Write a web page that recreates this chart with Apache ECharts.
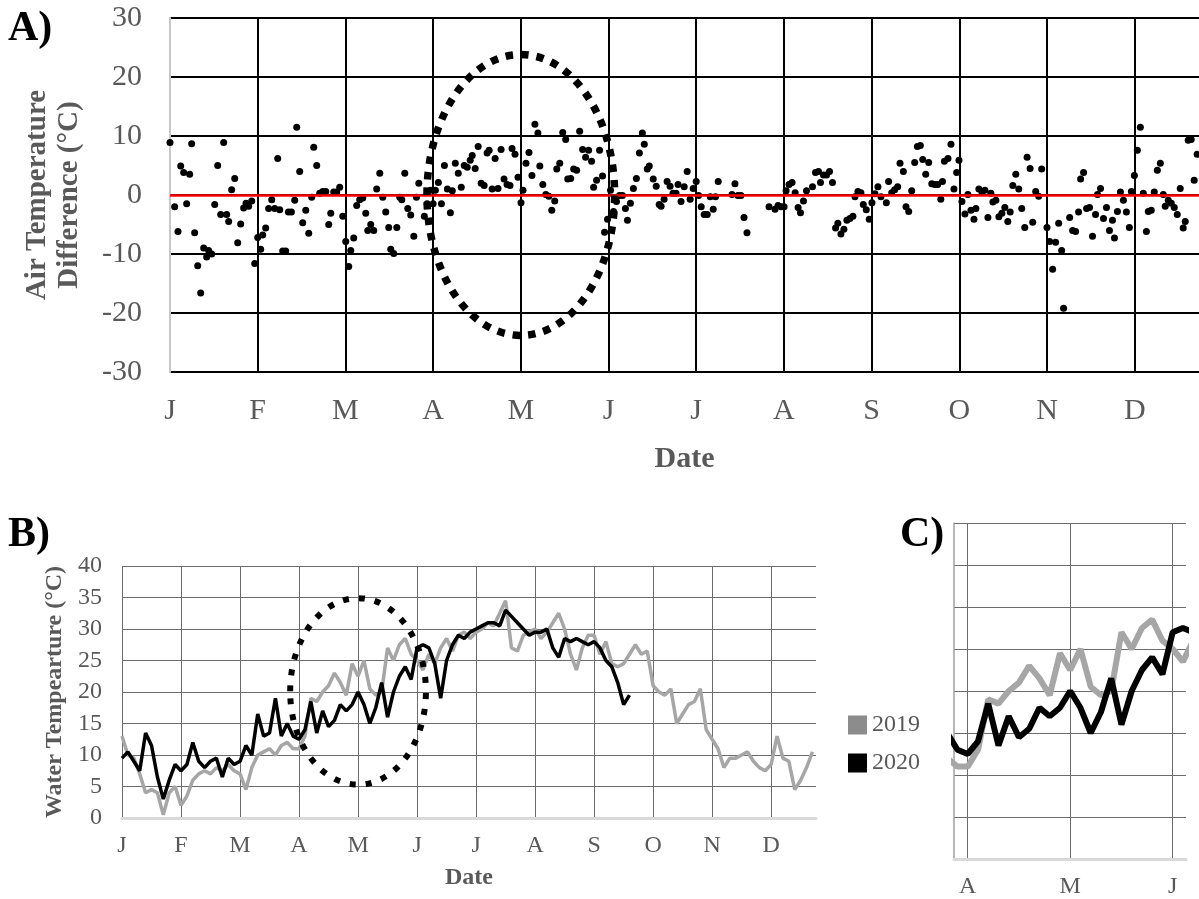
<!DOCTYPE html>
<html><head><meta charset="utf-8">
<script src="https://cdn.jsdelivr.net/npm/echarts@6/dist/echarts.min.js"></script>
<style>html,body{margin:0;padding:0;background:#fff}#c{width:1199px;height:899px}</style>
</head><body><div id="c"></div>
<script>
// ---------- data ----------
const monthLabels = ['J','F','M','A','M','J','J','A','S','O','N','D'];
const monthTicks = [0,1,2,3,4,5,6,7,8,9,10,11];
const zoomTicks = [3,4,5];

// Panel A: daily air temperature difference, x in months since Jan 1
const airMonth = [
0,0.053,0.091,0.122,0.156,0.19,0.224,0.247,0.281,0.316,0.35,0.384,0.418,0.44,0.475,0.51,0.544,0.578,0.612,0.646,0.669,0.703,0.738,0.772,0.806,0.84,0.867,0.897,0.932,0.966,
1.0,1.034,1.057,1.091,1.125,1.16,1.194,1.228,1.251,1.285,1.319,1.35,1.384,1.422,1.445,1.479,1.513,1.548,1.582,1.616,1.639,1.673,1.707,1.741,1.776,1.81,1.833,1.867,1.901,1.935,1.97,
2.004,2.038,2.061,2.095,2.129,2.163,2.198,2.232,2.255,2.289,2.323,2.357,2.392,2.426,2.46,2.494,2.517,2.551,2.586,2.62,2.643,2.677,2.711,2.745,2.78,2.81,2.837,2.9,
2.932,2.97,3.0,3.026,3.06,3.095,3.129,3.163,3.197,3.219,3.253,3.287,3.321,3.355,3.389,3.423,3.446,3.48,3.514,3.548,3.582,3.616,3.639,3.673,3.707,3.74,3.775,3.809,3.843,3.877,3.9,3.934,3.968,
4.002,4.025,4.059,4.093,4.127,4.161,4.195,4.217,4.251,4.285,4.32,4.353,4.387,4.41,4.444,4.478,4.512,4.535,4.569,4.603,4.637,4.671,4.705,4.739,4.773,4.807,4.83,4.864,4.898,4.932,4.955,4.989,
5.023,5.057,5.091,5.125,5.159,5.193,5.216,5.25,5.284,5.318,5.352,5.386,5.408,5.442,5.465,5.51,5.544,5.578,5.6,5.634,5.668,5.702,5.736,5.77,5.793,5.827,5.863,5.897,5.931,5.966,
6.0,6.027,6.057,6.091,6.126,6.16,6.194,6.22,6.251,6.408,6.442,6.476,6.51,6.545,6.579,6.83,6.899,6.933,6.968,
7.002,7.025,7.059,7.093,7.128,7.162,7.189,7.223,7.257,7.326,7.36,7.394,7.417,7.451,7.486,7.52,7.554,7.589,7.615,7.65,7.684,7.718,7.752,7.787,7.81,7.844,7.878,7.905,7.939,7.973,
8.004,8.038,8.072,8.107,8.168,8.194,8.229,8.263,8.297,8.324,8.362,8.392,8.423,8.457,8.491,8.522,8.556,8.583,8.617,8.651,8.686,8.72,8.754,8.789,8.808,8.83,8.871,8.905,8.939,8.97,8.996,
9.03,9.064,9.098,9.133,9.167,9.189,9.223,9.258,9.292,9.326,9.36,9.383,9.417,9.451,9.485,9.519,9.553,9.58,9.61,9.644,9.678,9.712,9.746,9.773,9.807,9.837,9.871,9.905,9.939,
10.0,10.03,10.064,10.098,10.133,10.167,10.189,10.258,10.292,10.326,10.36,10.383,10.417,10.451,10.485,10.519,10.553,10.576,10.61,10.644,10.678,10.712,10.746,10.769,10.803,10.837,10.871,10.905,10.939,10.962,10.996,
11.03,11.064,11.098,11.133,11.155,11.189,11.223,11.258,11.292,11.326,11.348,11.383,11.417,11.451,11.485,11.519,11.553,11.576,11.61,11.644,11.678,11.712
];
const airDiff = [
8.9,-2.0,-6.2,4.9,3.8,-1.5,3.5,8.7,-6.4,-12.0,-16.6,-9.0,-10.5,-9.4,-10.0,-1.6,5.0,-3.3,8.9,-3.3,-4.5,0.9,2.8,-8.1,-4.9,-2.2,-1.4,-1.9,-1.0,-11.6,
-7.2,-9.2,-6.8,-5.6,-2.3,-0.8,-2.3,6.2,-2.5,-9.5,-9.5,-2.9,-2.9,-0.9,11.5,4.0,-4.7,-2.6,-6.5,-0.4,8.1,5.0,0.3,0.6,0.6,-5.0,-3.1,0.5,0.5,1.3,-3.6,
-7.9,-12.1,-9.4,-7.3,-1.8,-0.8,-0.5,-3.1,-6.0,-5.0,-6.0,1.0,3.7,-0.4,-2.9,-5.5,-9.2,-9.9,-5.5,-0.4,-0.8,3.7,-2.3,-3.4,-7.0,-0.4,2.0,-3.6,
-1.5,0.8,-1.5,0.8,2.1,-1.5,5.0,1.0,-3.0,0.7,5.4,3.7,1.3,5.0,4.7,5.9,6.7,4.5,8.2,2.0,1.6,7.1,7.6,1.0,6.2,1.1,7.7,2.7,1.8,1.6,7.9,6.9,3.0,
-1.3,0.8,5.4,7.2,3.3,12.0,10.5,4.9,1.8,0.1,-0.2,-2.6,-1.0,4.4,5.4,10.6,9.4,2.7,2.8,4.4,4.2,10.8,7.7,6.4,7.6,5.7,1.3,2.5,7.6,3.2,-6.3,-4.1,
0.8,-2.8,-1.1,-0.1,-0.1,-2.3,-4.3,-1.4,1.1,2.8,7.1,10.5,8.6,4.4,4.9,2.7,1.5,-1.6,-1.9,-0.7,2.3,1.5,0.3,0.3,1.8,-1.1,1.4,4.0,-0.7,1.1,
2.3,-0.1,-2.0,-3.3,-3.3,-0.3,-2.4,-0.3,2.3,0.1,1.9,-0.1,-0.1,-3.8,-6.4,-2.0,-2.4,-1.8,-2.0,
-2.0,0.7,1.8,2.1,0.4,-2.1,-3.0,-1.0,0.7,1.4,3.8,4.0,2.1,3.4,3.4,4.0,2.1,-5.6,-4.8,-6.6,-5.8,-4.3,-4.0,-3.6,-0.3,0.6,0.4,-1.6,-2.5,-4.1,
-1.3,0.2,1.4,-0.3,-1.3,2.3,0.4,0.9,1.4,5.4,4.0,-2.0,-2.8,0.7,5.5,8.2,8.4,6.0,3.5,5.5,1.9,1.8,1.8,-0.7,2.3,5.7,6.2,8.6,1.0,3.8,5.9,
-1.1,-3.2,0.1,-2.6,-4.1,-2.3,1.0,0.5,0.8,-3.8,0.3,-1.2,-0.9,-3.7,-3.1,-2.1,-4.5,-2.9,1.6,3.5,1.0,-2.3,-5.5,6.4,4.5,-4.6,0.6,-0.2,4.4,
-5.5,-7.9,-12.6,-8.0,-4.8,-9.4,-19.2,-3.8,-6.0,-6.2,-2.9,2.7,3.8,-2.3,-2.1,-7.0,-3.3,0.1,1.1,-4.0,-2.1,-6.0,-4.3,-7.3,-2.8,0.5,-0.9,-2.9,-5.5,0.6,3.3,
7.6,11.5,0.3,-6.2,-2.8,-2.6,0.5,4.2,5.4,0.1,-1.9,-0.9,-1.4,-2.1,-3.3,1.1,-5.6,-4.5,9.3,9.4,2.5,6.9
];

// Panels B and C: water temperature, one value every 0.1 month from Jan 1
const waterStep = 0.1;
const water2019 = [
13,10,9.5,7,4,4.5,4,0.5,4,5,
2,3.5,6,7,7.5,7,8,7.5,8.5,7.5,
7,4.5,8,10,10.5,11,10,11.5,12,11,
11,13,19,18.5,20,21,23,21.5,19.5,24.5,
22.5,25,20.5,19.5,20,27,25,27.5,28.5,26,
25,23.5,26,24.5,27,28.5,26.5,29,29.5,28.5,
29.5,30,31,30.5,32.5,34.5,27,26.5,29,29.5,
30,28.5,29.5,31,32.5,30,26,23.5,27,29,
29,26,28,24.5,24,24.5,26,27.5,26,26.5,
21,20,19.5,20.5,15,16.5,18,18.5,20.5,14,
12.5,11,8,9.5,9.5,10,10.5,9,8,7.5,
8.5,13,9.5,9,4.5,6,8,10.5
];
const water2020 = [
9.5,10.5,9,7.5,13.5,11.5,6.5,3,6,8.5,
7.5,8.5,12,9,8,9,9.5,6.5,9.5,8.5,
9,11.5,10,16.5,13,13.5,19,13,15,13,
12.5,14,18.5,13.5,17,14.5,15.5,18,17,18,
20,18,15,17.5,21.5,16,20,22.5,24,22,
27,27.5,27,24.5,19,25,27.5,29,28.5,29.5,
30,30.5,31,31,30.5,33,32,31,30,29,
29.5,29.5,30,27,25.5,28.5,28,28.5,28,27.5,
28,27,25,24,21.5,18,19.5
];

// ---------- build ----------
const serif = 'Liberation Serif';
const grey = '#595959';
const toPairs = arr => arr.map((v, i) => [+(i * waterStep).toFixed(2), v]);
const airData = airMonth.map((m, i) => [m, airDiff[i]]);
const monthFmt = v => monthLabels[Math.round(v)] || '';

const chart = echarts.init(document.getElementById('c'), null, {renderer: 'canvas'});
const option = {
  animation: false,
  backgroundColor: '#fff',
  grid: [
    {left: 170, top: 18, width: 1029, height: 354},
    {left: 122, top: 566, width: 694, height: 252},
    {left: 954, top: 523, width: 232, height: 336}
  ],
  xAxis: [
    {gridIndex: 0, type: 'value', min: 0, max: 11.733, interval: 1,
     axisLine: {show: false, onZero: false},
     axisTick: {show: false, customValues: monthTicks},
     axisLabel: {customValues: monthTicks, formatter: monthFmt, fontFamily: serif, fontSize: 30, color: grey, margin: 24},
     splitLine: {show: true, lineStyle: {color: '#000', width: 2}},
     name: 'Date', nameLocation: 'middle', nameGap: 72,
     nameTextStyle: {fontFamily: serif, fontWeight: 'bold', fontSize: 30, color: grey}},
    {gridIndex: 1, type: 'value', min: 0, max: 11.76, interval: 1,
     axisLine: {show: true, onZero: false, lineStyle: {color: '#d9d9d9', width: 3}},
     axisTick: {show: false, customValues: monthTicks},
     axisLabel: {customValues: monthTicks, formatter: monthFmt, fontFamily: serif, fontSize: 24, color: grey, margin: 16},
     splitLine: {show: true, lineStyle: {color: '#6b6b6b', width: 1}},
     name: 'Date', nameLocation: 'middle', nameGap: 48,
     nameTextStyle: {fontFamily: serif, fontWeight: 'bold', fontSize: 24, color: grey}},
    {gridIndex: 2, type: 'value', min: 2.866, max: 5.13,
     axisLine: {show: true, onZero: false, lineStyle: {color: '#d9d9d9', width: 3}},
     axisTick: {show: false, customValues: zoomTicks},
     axisLabel: {customValues: zoomTicks, formatter: monthFmt, fontFamily: serif, fontSize: 24, color: grey, margin: 16},
     splitLine: {show: true, lineStyle: {color: '#6b6b6b', width: 1}}}
  ],
  yAxis: [
    {gridIndex: 0, type: 'value', min: -30, max: 30, interval: 10,
     axisLine: {show: true, lineStyle: {color: '#c8c8c8', width: 2}},
     axisTick: {show: false},
     axisLabel: {fontFamily: serif, fontSize: 30, color: grey, margin: 28},
     splitLine: {show: true, lineStyle: {color: '#000', width: 2}},
     name: 'Air Temperature\nDifference (°C)', nameLocation: 'middle', nameGap: 84, nameRotate: 90,
     nameTextStyle: {fontFamily: serif, fontWeight: 'bold', fontSize: 29, lineHeight: 32, color: grey}},
    {gridIndex: 1, type: 'value', min: 0, max: 40, interval: 5,
     axisLine: {show: false},
     axisTick: {show: false},
     axisLabel: {fontFamily: serif, fontSize: 24, color: grey, margin: 20},
     splitLine: {show: true, lineStyle: {color: '#6b6b6b', width: 1}},
     name: 'Water Tempearture (°C)', nameLocation: 'middle', nameGap: 48, nameRotate: 90,
     nameTextStyle: {fontFamily: serif, fontWeight: 'bold', fontSize: 24, color: grey}},
    {gridIndex: 2, type: 'value', min: 0, max: 40, interval: 5,
     axisLine: {show: true, lineStyle: {color: '#a0a0a0', width: 1.5}},
     axisTick: {show: false},
     axisLabel: {show: false},
     splitLine: {show: true, lineStyle: {color: '#6b6b6b', width: 1}}}
  ],
  legend: {
    orient: 'vertical', left: 843, top: 708, itemWidth: 19, itemHeight: 19, itemGap: 14,
    textStyle: {fontFamily: serif, fontSize: 24, color: grey},
    data: [
      {name: '2019', icon: 'rect', itemStyle: {color: '#8c8c8c'}},
      {name: '2020', icon: 'rect', itemStyle: {color: '#000'}}
    ]
  },
  series: [
    {type: 'scatter', xAxisIndex: 0, yAxisIndex: 0, data: airData, symbolSize: 7,
     itemStyle: {color: '#000', opacity: 1}, z: 3,
     markLine: {silent: true, symbol: ['none', 'none'], label: {show: false},
                lineStyle: {color: '#ff0000', width: 2.5, type: 'solid'}, data: [{yAxis: 0}]}},
    {name: '2019', type: 'line', xAxisIndex: 1, yAxisIndex: 1, data: toPairs(water2019),
     showSymbol: false, lineStyle: {color: '#a6a6a6', width: 3.5}, itemStyle: {color: '#a6a6a6'}},
    {name: '2020', type: 'line', xAxisIndex: 1, yAxisIndex: 1, data: toPairs(water2020),
     showSymbol: false, lineStyle: {color: '#000', width: 3.5}, itemStyle: {color: '#000'}},
    {name: '2019', type: 'line', xAxisIndex: 2, yAxisIndex: 2, data: toPairs(water2019),
     showSymbol: false, lineStyle: {color: '#a6a6a6', width: 6}, itemStyle: {color: '#a6a6a6'}},
    {name: '2020', type: 'line', xAxisIndex: 2, yAxisIndex: 2, data: toPairs(water2020),
     showSymbol: false, lineStyle: {color: '#000', width: 6}, itemStyle: {color: '#000'}}
  ]
};
chart.setOption(option);

// dotted ellipses (annotations) placed in data coordinates
function ellipse(gridIndex, cx, cy, rx, ry, lw, dash) {
  const c = chart.convertToPixel({gridIndex: gridIndex}, [cx, cy]);
  const e = chart.convertToPixel({gridIndex: gridIndex}, [cx + rx, cy + ry]);
  return {type: 'ellipse', silent: true, z: 100,
          shape: {cx: c[0], cy: c[1], rx: Math.abs(e[0] - c[0]), ry: Math.abs(e[1] - c[1])},
          style: {fill: null, stroke: '#000', lineWidth: lw, lineDash: dash}};
}
chart.setOption({
  graphic: [
    ellipse(0, 4.0, 0, 1.07, 23.8, 7.5, [7.5, 8]),
    ellipse(1, 4.0, 20.1, 1.15, 14.8, 6, [6, 10]),
    {type: 'text', left: 8, top: 8, z: 100, style: {text: 'A)', font: 'bold 42px "Liberation Serif"', fill: '#000'}},
    {type: 'text', left: 8, top: 514, z: 100, style: {text: 'B)', font: 'bold 42px "Liberation Serif"', fill: '#000'}},
    {type: 'text', left: 900, top: 514, z: 100, style: {text: 'C)', font: 'bold 42px "Liberation Serif"', fill: '#000'}}
  ]
});
</script>
</body></html>
